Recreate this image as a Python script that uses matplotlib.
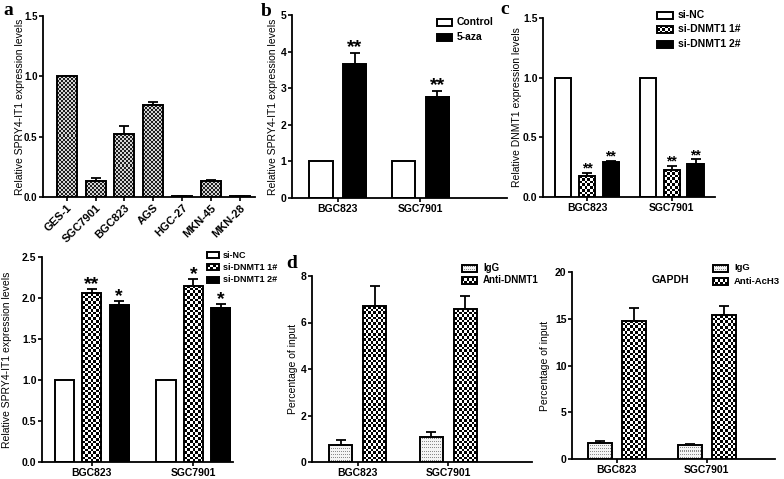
import matplotlib.pyplot as plt
from matplotlib.colors import ListedColormap
import numpy as np

plt.rcParams['font.family'] = ['Liberation Sans', 'DejaVu Sans']

W, H = 784, 479

# panel a
lines_a = ['GES-1', 'SGC7901', 'BGC823', 'AGS', 'HGC-27', 'MKN-45', 'MKN-28']
vals_a = [1.0, 0.13, 0.52, 0.76, 0.005, 0.13, 0.005]
err_a = [0.0, 0.03, 0.065, 0.03, 0.004, 0.015, 0.004]

groups = ['BGC823', 'SGC7901']

# panel b
ctrl_b = [1.0, 1.0]
aza_b = [3.65, 2.77]
aza_b_err = [0.3, 0.16]

# panel c (DNMT1 levels)
nc_c = [1.0, 1.0]
si1_c = [0.18, 0.23]
si1_c_err = [0.025, 0.03]
si2_c = [0.29, 0.28]
si2_c_err = [0.015, 0.035]

# bottom-left (SPRY4-IT1 after knockdown)
nc_e = [1.0, 1.0]
si1_e = [2.06, 2.15]
si1_e_err = [0.05, 0.08]
si2_e = [1.91, 1.88]
si2_e_err = [0.05, 0.05]

# panel d
igg_d1 = [0.72, 1.08]
igg_d1_err = [0.22, 0.2]
dnmt_d1 = [6.7, 6.58]
dnmt_d1_err = [0.85, 0.58]
igg_d2 = [1.7, 1.55]
igg_d2_err = [0.25, 0.08]
ach3_d2 = [14.8, 15.4]
ach3_d2_err = [1.4, 1.0]

fig = plt.figure(figsize=(7.84, 4.79), dpi=100)


def px_axes(l, t, r, b):
    return fig.add_axes([l / W, 1 - b / H, (r - l) / W, (b - t) / H])


def pattern(kind, wpx, hpx):
    # small pixel patterns standing in for the Prism fills
    if kind == 'white':
        return np.zeros((1, 1)), ListedColormap(['white', 'white'])
    if kind == 'black':
        return np.ones((1, 1)), ListedColormap(['black', 'black'])
    if kind in ('check', 'check_a'):
        cell = 2.7 if kind == 'check' else 2.0
        nx = max(1, int(round(wpx / cell)))
        ny = max(1, int(round(hpx / cell)))
        jj, ii = np.meshgrid(np.arange(nx), np.arange(ny))
        arr = ((ii + jj) % 2).astype(float)
        cols = ['white', 'black'] if kind == 'check' else ['#d4d4d4', '#1e1e1e']
        return arr, ListedColormap(cols)
    # dots
    nx = max(1, int(round(wpx)))
    ny = max(1, int(round(hpx)))
    jj, ii = np.meshgrid(np.arange(nx), np.arange(ny))
    arr = (((ii % 3) == 1) & ((jj % 2) == 0)).astype(float)
    return arr, ListedColormap(['#f4f4f4', '#8a8a8a'])


def fill_rect(ax, x0, x1, y0, y1, kind, sx, sy, clip=True):
    arr, cmap = pattern(kind, abs(x1 - x0) * sx, abs(y1 - y0) * sy)
    im = ax.imshow(arr, extent=(x0, x1, y0, y1), cmap=cmap, vmin=0, vmax=1,
                   interpolation='nearest', aspect='auto', zorder=2, origin='lower')
    im.set_clip_on(clip)
    ax.add_patch(plt.Rectangle((x0, y0), x1 - x0, y1 - y0, facecolor='none',
                               edgecolor='black', linewidth=1.4, zorder=3, clip_on=clip))


def prism(ax, xlim, ylim, yticks, fmt, ylabel, lab_px, xticks, xlabels, xfs=7.5, rot=0, yfs=7.5):
    ax.set_xlim(*xlim)
    ax.set_ylim(*ylim)
    ax.set_autoscale_on(False)
    ax.set_yticks(yticks)
    ax.set_yticklabels([fmt.format(v) for v in yticks], fontweight='bold', fontsize=yfs)
    ax.set_xticks(xticks)
    if rot:
        ax.set_xticklabels(xlabels, rotation=rot, ha='right', rotation_mode='anchor',
                           fontweight='bold', fontsize=xfs)
    else:
        ax.set_xticklabels(xlabels, fontweight='bold', fontsize=xfs)
    for s in ['top', 'right']:
        ax.spines[s].set_visible(False)
    for s in ['left', 'bottom']:
        ax.spines[s].set_linewidth(1.3)
    ax.tick_params(width=1.2, length=3, pad=1)
    ax.set_ylabel(ylabel, fontsize=7.5)
    pos = ax.get_position()
    ax.yaxis.set_label_coords((lab_px / W - pos.x0) / pos.width, 0.5)
    ax.patch.set_alpha(0)


def scale(ax):
    pos = ax.get_position()
    x0, x1 = ax.get_xlim()
    y0, y1 = ax.get_ylim()
    return pos.width * W / (x1 - x0), pos.height * H / (y1 - y0)


def bars(ax, x, vals, errs, width, kind):
    sx, sy = scale(ax)
    for xi, v in zip(x, vals):
        fill_rect(ax, xi - width / 2, xi + width / 2, 0, v, kind, sx, sy)
    if errs is not None:
        ax.errorbar(x, vals, yerr=[np.zeros(len(vals)), errs], fmt='none', ecolor='black',
                    elinewidth=1.3, capsize=3.5, capthick=1.3, zorder=1)


def stars(ax, x, tops, labels, fs, gap_pt=4.0):
    for xi, t, lab in zip(x, tops, labels):
        off = gap_pt - 0.29 * fs
        ax.annotate(lab, (xi, t), xytext=(0, off), textcoords='offset points',
                    ha='center', va='baseline', fontsize=fs, fontweight='bold')


# overlay for letters and legends, in pixel coordinates
ov = fig.add_axes([0, 0, 1, 1])
ov.set_xlim(0, W)
ov.set_ylim(H, 0)
ov.axis('off')
ov.set_zorder(10)


def legend(items, x, ys, tx, fs=7.5, rw=15, rh=7):
    for (kind, name), y in zip(items, ys):
        fill_rect(ov, x, x + rw, y + rh / 2, y - rh / 2, kind, 1, 1, clip=False)
        ov.text(tx, y, name, fontsize=fs, fontweight='bold', va='center', ha='left')


def letter(x, y, s):
    ov.text(x, y, s, fontsize=14, fontweight='bold', family='Liberation Serif',
            ha='center', va='center')


xg = np.arange(2)

# ---- panel a
ax = px_axes(43, 16, 255, 197)
xa = np.arange(len(lines_a))
prism(ax, (-0.82, 6.52), (0, 1.5), [0.0, 0.5, 1.0, 1.5], '{:.1f}',
      'Relative SPRY4-IT1 expression levels', 25, xa, lines_a, xfs=8, rot=45, yfs=7)
bars(ax, xa, vals_a, err_a, 0.69, 'check_a')
letter(8, 10, 'a')

# ---- panel b
ax = px_axes(292, 15, 507, 198)
prism(ax, (-0.557, 2.05), (0, 5), [0, 1, 2, 3, 4, 5], '{:d}',
      'Relative SPRY4-IT1 expression levels', 278, xg, groups)
bars(ax, xg - 0.205, ctrl_b, None, 0.28, 'white')
bars(ax, xg + 0.205, aza_b, aza_b_err, 0.28, 'black')
stars(ax, xg + 0.205, np.add(aza_b, aza_b_err), ['**', '**'], 14, gap_pt=4.7)
legend([('white', 'Control'), ('black', '5-aza')], 437, [22, 37], 457)
letter(266, 11, 'b')

# ---- panel c
ax = px_axes(543, 18, 715, 197)
prism(ax, (-0.52, 1.51), (0, 1.5), [0.0, 0.5, 1.0, 1.5], '{:.1f}',
      'Relative DNMT1 expression levels', 522, xg, groups)
bars(ax, xg - 0.28, nc_c, None, 0.19, 'white')
bars(ax, xg, si1_c, si1_c_err, 0.19, 'check')
bars(ax, xg + 0.28, si2_c, si2_c_err, 0.19, 'black')
stars(ax, xg, np.add(si1_c, si1_c_err), ['**', '**'], 10, gap_pt=3.2)
stars(ax, xg + 0.28, np.add(si2_c, si2_c_err), ['**', '**'], 10, gap_pt=3.2)
legend([('white', 'si-NC'), ('check', 'si-DNMT1 1#'), ('black', 'si-DNMT1 2#')],
       657, [15, 29, 44], 678, rw=16)
letter(505, 9, 'c')

# ---- bottom-left
ax = px_axes(42, 257, 233, 462)
prism(ax, (-0.49, 1.39), (0, 2.5), [0.0, 0.5, 1.0, 1.5, 2.0, 2.5], '{:.1f}',
      'Relative SPRY4-IT1 expression levels', 12, xg, groups)
bars(ax, xg - 0.27, nc_e, None, 0.19, 'white')
bars(ax, xg, si1_e, si1_e_err, 0.19, 'check')
bars(ax, xg + 0.27, si2_e, si2_e_err, 0.19, 'black')
stars(ax, xg, np.add(si1_e, si1_e_err), ['**', '*'], 14)
stars(ax, xg + 0.27, np.add(si2_e, si2_e_err), ['*', '*'], 14)
legend([('white', 'si-NC'), ('check', 'si-DNMT1 1#'), ('black', 'si-DNMT1 2#')],
       207, [255, 267, 280], 223, fs=6.5, rw=12, rh=6)

# ---- panel d left
ax = px_axes(312, 276, 532, 462)
prism(ax, (-0.505, 1.925), (0, 8), [0, 2, 4, 6, 8], '{:d}', 'Percentage of input', 298,
      xg, groups)
bars(ax, xg - 0.19, igg_d1, igg_d1_err, 0.254, 'dots')
bars(ax, xg + 0.19, dnmt_d1, dnmt_d1_err, 0.254, 'check')
legend([('dots', 'IgG'), ('check', 'Anti-DNMT1')], 462, [268, 280], 483, fs=7)
letter(292, 263, 'd')

# ---- panel d right
ax = px_axes(572, 272, 775, 459)
prism(ax, (-0.50, 1.76), (0, 20), [0, 5, 10, 15, 20], '{:d}', 'Percentage of input', 550,
      xg, groups)
bars(ax, xg - 0.19, igg_d2, igg_d2_err, 0.266, 'dots')
bars(ax, xg + 0.19, ach3_d2, ach3_d2_err, 0.266, 'check')
ov.text(670, 280, 'GAPDH', fontsize=7.5, fontweight='bold', ha='center', va='center')
legend([('dots', 'IgG'), ('check', 'Anti-AcH3')], 713, [268, 281], 734, fs=6.8)

fig.savefig('out.png', dpi=100)
